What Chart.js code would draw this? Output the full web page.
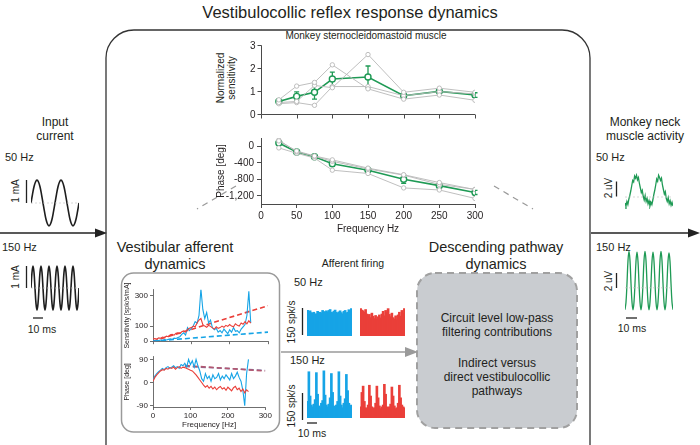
<!DOCTYPE html>
<html>
<head>
<meta charset="utf-8">
<script src="https://cdn.jsdelivr.net/npm/chart.js@4.4.0/dist/chart.umd.min.js"></script>
<style>
  body { margin: 0; background: #fff; }
  #fig { position: relative; width: 700px; height: 445px; overflow: hidden;
         font-family: "Liberation Sans", Arial, sans-serif; color: #231f20; }
  #fig canvas, #fig svg { position: absolute; }
  .t { position: absolute; white-space: nowrap; line-height: 1; transform: translate(-50%, -50%); }
  .l { position: absolute; white-space: nowrap; line-height: 1; transform: translate(0, -50%); }
  .rt { position: absolute; white-space: nowrap; line-height: 1; transform: translate(-100%, -50%); }
  .r { position: absolute; white-space: nowrap; line-height: 1; transform: translate(-50%, -50%) rotate(-90deg); }
</style>
</head>
<body>
<div id="fig">
<svg id="deco" width="700" height="445" style="left:0;top:0">
  <!-- outer box + main arrow -->
  <rect x="106" y="30" width="484" height="480" rx="28" fill="none" stroke="#333" stroke-width="1.3"/>
  <line x1="0" y1="233" x2="98" y2="233" stroke="#222" stroke-width="1.5"/>
  <polygon points="95,228.5 107,233 95,237.5" fill="#222"/>
  <line x1="591" y1="233" x2="691" y2="233" stroke="#222" stroke-width="1.5"/>
  <polygon points="688,228.5 700,233 688,237.5" fill="#222"/>
  <!-- zoom lines -->
  <line x1="236" y1="186" x2="197" y2="209" stroke="#999" stroke-width="1.2" stroke-dasharray="6,5"/>
  <line x1="494" y1="186" x2="533" y2="209" stroke="#999" stroke-width="1.2" stroke-dasharray="6,5"/>
  <!-- inset box, descending box, grey arrow -->
  <rect x="121.5" y="273" width="158" height="159" rx="12" fill="none" stroke="#9a9a9a" stroke-width="1.5"/>
  <rect x="417" y="273" width="160" height="155" rx="18" fill="#c9ccd0" stroke="#a0a0a0" stroke-width="2" stroke-dasharray="7,5"/>
  <line x1="281" y1="352" x2="408" y2="352" stroke="#9a9a9a" stroke-width="1.6"/>
  <polygon points="405,347 418,352 405,357" fill="#9a9a9a"/>
  <!-- scale bars -->
  <g stroke="#222" stroke-width="1.3">
    <line x1="26.5" y1="180" x2="26.5" y2="203"/>
    <line x1="26.5" y1="266" x2="26.5" y2="288"/>
    <line x1="33" y1="318" x2="43" y2="318"/>
    <line x1="616.5" y1="181.5" x2="616.5" y2="196.5"/>
    <line x1="616.5" y1="273" x2="616.5" y2="288"/>
    <line x1="626" y1="318" x2="637" y2="318"/>
    <line x1="302.5" y1="308" x2="302.5" y2="335"/>
    <line x1="302.5" y1="393" x2="302.5" y2="420"/>
    <line x1="307" y1="423" x2="317" y2="423"/>
  </g>
</svg>
</div>
<script>
// ---- main plots: Monkey SCM muscle ----
const freqs = [25, 50, 75, 100, 150, 200, 250, 300];
const freqTicks = [0, 50, 100, 150, 200, 250, 300];
const sensTicks = [0, 1, 2, 3];
const phaseTicks = [-1200, -800, -400, 0];

const sensMean = [0.55, 0.77, 0.95, 1.53, 1.62, 0.80, 0.99, 0.83];
const sensErr  = [0.06, 0.20, 0.30, 0.30, 0.48, 0.10, 0.08, 0.10];
const sensA = [0.62, 1.22, 1.38, 2.15, 1.10, 0.65, 0.83, 0.60];
const sensB = [0.50, 0.55, 1.25, 1.15, 2.60, 0.95, 1.13, 0.95];
const sensC = [0.45, 0.50, 0.38, 1.20, 1.20, 0.80, 0.98, 0.88];

const phaseMean = [80, -140, -255, -425, -580, -800, -955, -1120];
const phaseErr  = [40, 25, 20, 60, 30, 100, 40, 50];
const phaseA = [130, -115, -235, -330, -530, -690, -880, -1050];
const phaseB = [150, -135, -245, -365, -550, -700, -925, -1045];
const phaseC = [-40, -170, -285, -580, -660, -1010, -1060, -1265];

// ---- vestibular afferent inset ----
const affFreq = [0,5,10,15,20,25,30,35,40,45,50,55,60,65,70,75,80,85,90,95,100,105,110,115,120,125,
                 130,135,140,145,150,155,160,165,170,175,180,185,190,195,200,205,210,215,220,225,230,235,240,245,250,255];
const redSens = [15,18,14,22,20,28,25,33,30,42,45,40,52,55,50,62,68,60,78,85,90,100,95,120,140,150,
                 110,100,92,105,98,88,80,95,85,90,100,92,105,98,110,100,95,115,105,100,120,112,130,115,135,120];
const blueSens = [5,3,6,4,8,5,10,8,12,15,12,20,18,25,30,45,55,40,90,70,85,100,130,120,170,345,
                  210,150,190,120,140,90,75,85,60,70,55,80,65,50,75,60,90,65,70,55,80,95,110,170,330,120];
const redPhase = [5,20,30,38,45,50,48,55,52,58,55,60,52,58,62,55,60,58,55,52,48,45,38,30,20,10,
                  0,-10,-18,-12,-22,-15,-25,-18,-28,-20,-15,-25,-20,-30,-18,-25,-32,-20,-15,-28,-22,-35,-25,-40,-28,-35];
const bluePhase = [10,25,35,42,48,55,50,58,62,55,60,65,58,62,55,70,65,75,60,90,70,85,60,90,65,45,
                   15,5,35,15,25,5,30,15,20,35,10,25,15,30,20,10,35,15,25,40,20,5,-30,-90,35,90];
const fitFreq = [0, 300];
const redSensFit = [0, 235];
const blueSensFit = [0, 60];
const phaseFitFreq = [85, 300];
const redPhaseFit = [66, 45];
const bluePhaseFit = [63, 47];
const insetSensTicks = [0, 100, 300];
const insetPhaseTicks = [-90, 0, 90];
const insetFreqTicks = [0, 100, 200, 300];

// ---- afferent firing histograms (spk/s) ----
const blue50 = [140,132,138,128,125,130,118,122,135,128,130,126,140,134,128,138,132,140,
                145,130,128,136,142,130,124,132,138,128,120,135,140,126,130,144,138,150];
const red50 = [150,142,138,130,145,120,110,118,100,125,108,95,112,90,105,115,98,120,
               135,110,140,128,150,118,105,125,100,92,110,88,115,130,108,140,125,150];
const blue150 = [90,255,120,70,60,75, 100,250,130,65,55,80, 95,260,125,70,60,75,
                 110,245,140,65,60,70, 90,255,120,70,55,80, 105,240,150,80,60,70];
const red150 = [60,140,175,90,55,50, 70,180,120,60,50,55, 80,175,110,65,50,60,
                70,185,130,60,55,60, 75,170,120,65,50,55, 80,180,110,70,60,55];

// ---- input current (mA) and neck EMG (uV) traces, 40 ms each ----
const current50 = [0,0.38,0.71,0.92,1,0.92,0.71,0.38,0,-0.38,-0.71,-0.92,-1,-0.92,-0.71,-0.38,
                   0,0.38,0.71,0.92,1,0.92,0.71,0.38,0,-0.38,-0.71,-0.92,-1,-0.92,-0.71,-0.38,0];
const current150 = [0,0.71,1,0.71,0,-0.71,-1,-0.71, 0,0.71,1,0.71,0,-0.71,-1,-0.71,
                    0,0.71,1,0.71,0,-0.71,-1,-0.71, 0,0.71,1,0.71,0,-0.71,-1,-0.71,
                    0,0.71,1,0.71,0,-0.71,-1,-0.71, 0,0.71,1,0.71,0,-0.71,-1,-0.71, 0];
const emg50 = [-0.8,-1.2,-0.6,-1.0,-0.3,0.2,0.8,1.5,2.2,2.0,2.8,2.5,2.9,2.3,2.6,1.8,1.2,0.6,0.9,0.1,
               -0.4,0.2,-0.6,-0.2,-0.9,-0.5,-1.2,-0.7,-1.0,-0.4,0.3,0.9,1.6,2.4,2.1,2.9,2.6,2.2,2.5,1.6,
               1.0,0.4,0.7,-0.2,-0.6,-0.1,-0.9,-0.5,-1.1,-0.7,-1.2];
const emg150 = [-2.9,-1.9,0.6,3.6,4.8,3.6,0.6,-1.9, -2.9,-1.9,0.6,3.5,4.7,3.5,0.6,-1.9,
                -2.9,-1.9,0.6,3.6,4.8,3.6,0.6,-1.9, -2.9,-1.9,0.6,3.5,4.7,3.5,0.6,-1.9,
                -2.9,-1.9,0.6,3.6,4.8,3.6,0.6,-1.9, -2.9,-1.9,0.6,3.5,4.6,3.5,0.6,-1.9, -2.9];

const GREEN = '#1f9a55', GREY = '#b8b8b8', AX = '#4a4a4a';
const RED = '#ea3f39', BLUE = '#16a4e6';

Chart.defaults.font.family = '"Liberation Sans", Arial, sans-serif';
Chart.defaults.color = '#231f20';
Chart.defaults.animation = false;
Chart.defaults.responsive = false;
Chart.defaults.events = [];
Chart.defaults.plugins.legend.display = false;
Chart.defaults.plugins.tooltip.enabled = false;

const fig = document.getElementById('fig');
const deco = document.getElementById('deco');

function addCanvas(x, y, w, h)
{
	const c = document.createElement('canvas');
	c.width = w; c.height = h;
	c.style.left = x + 'px'; c.style.top = y + 'px';
	c.style.width = w + 'px'; c.style.height = h + 'px';
	fig.appendChild(c);
	return c;
}

function txt(s, x, y, size, cls = 't')
{
	const d = document.createElement('div');
	d.className = cls;
	d.textContent = s;
	d.style.left = x + 'px';
	d.style.top = y + 'px';
	d.style.fontSize = size + 'px';
	fig.appendChild(d);
}

function svgLine(x1, y1, x2, y2)
{
	const l = document.createElementNS('http://www.w3.org/2000/svg', 'line');
	l.setAttribute('x1', x1); l.setAttribute('y1', y1);
	l.setAttribute('x2', x2); l.setAttribute('y2', y2);
	l.setAttribute('stroke', AX); l.setAttribute('stroke-width', 1);
	deco.appendChild(l);
}

// the top panel's canvas axes never showed in the picture, so its axes are
// laid out in the page instead, at the pixels the chart's own scales give
function pageAxes(chart, left, top, xTicks, yTicks)
{
	const { chartArea: a, scales: { x, y } } = chart;
	const L = left + Math.round(a.left) + 0.5, B = top + Math.round(a.bottom) + 0.5;
	svgLine(L, top + a.top, L, B);
	svgLine(L, B, left + a.right, B);
	yTicks.forEach(v => {
		const py = top + Math.round(y.getPixelForValue(v)) + 0.5;
		svgLine(L - 4, py, L, py);
		txt(String(v), L - 6, py, 10, 'rt');
	});
	xTicks.forEach(v => {
		const px = left + Math.round(x.getPixelForValue(v)) + 0.5;
		svgLine(px, B, px, B + 4);
	});
}

// text goes in first so that the canvases sit on top of it
txt('Vestibulocollic reflex response dynamics', 350, 12, 16.5);
txt('Monkey sternocleidomastoid muscle', 366, 36, 10);
txt('Normalized', 221, 78, 10, 'r');
txt('sensitivity', 232, 78, 10, 'r');
txt('Input', 55, 122, 12);
txt('current', 55, 136, 12);
txt('50 Hz', 5, 157, 11, 'l');
txt('1 mA', 16, 191, 10, 'r');
txt('150 Hz', 2, 247, 11, 'l');
txt('1 mA', 16, 277, 10, 'r');
txt('10 ms', 42, 329, 10.5);
txt('Monkey neck', 645, 122, 12);
txt('muscle activity', 645, 136, 12);
txt('50 Hz', 596, 157, 11, 'l');
txt('2 uV', 609, 188, 10, 'r');
txt('150 Hz', 596, 247, 11, 'l');
txt('2 uV', 609, 281, 10, 'r');
txt('10 ms', 632, 328, 10.5);
txt('Vestibular afferent', 175, 247, 14.5);
txt('dynamics', 175, 264, 14.5);
txt('Afferent firing', 353, 263, 10.5);
txt('50 Hz', 294, 282, 11, 'l');
txt('150 spk/s', 292, 322, 10, 'r');
txt('150 Hz', 290, 360, 11, 'l');
txt('150 spk/s', 292, 406, 10, 'r');
txt('10 ms', 312, 433, 10.5);
txt('Descending pathway', 496, 247, 14.5);
txt('dynamics', 496, 264, 14.5);
txt('Circuit level low-pass', 497, 318, 12);
txt('filtering contributions', 497, 332, 12);
txt('Indirect versus', 497, 363, 12);
txt('direct vestibulocollic', 497, 377, 12);
txt('pathways', 497, 391, 12);

const pts = (xs, ys) => xs.map((x, i) => ({ x: x, y: ys[i] }));
const setTicks = (arr) => (s) => { s.ticks = arr.map(v => ({ value: v })); };

// vertical error bars with small caps, drawn under the markers
const errorBars = {
	id: 'errorBars',
	beforeDatasetsDraw(chart, args, opts)
	{
		if (!opts.err) return;
		const { ctx, scales: { x, y } } = chart;
		ctx.save();
		ctx.strokeStyle = GREEN;
		ctx.lineWidth = 1.3;
		opts.err.forEach((e, i) => {
			const px = x.getPixelForValue(freqs[i]);
			const top = y.getPixelForValue(opts.mean[i] + e);
			const bot = y.getPixelForValue(opts.mean[i] - e);
			ctx.beginPath();
			ctx.moveTo(px, top); ctx.lineTo(px, bot);
			ctx.moveTo(px - 2.5, top); ctx.lineTo(px + 2.5, top);
			ctx.moveTo(px - 2.5, bot); ctx.lineTo(px + 2.5, bot);
			ctx.stroke();
		});
		ctx.restore();
	}
};

const greyDs = (ys) => ({ data: pts(freqs, ys), borderColor: GREY, borderWidth: 0.9,
	pointRadius: 2.2, pointBorderWidth: 0.9, pointBorderColor: GREY, pointBackgroundColor: '#fff' });
const greenDs = (ys) => ({ data: pts(freqs, ys), borderColor: GREEN, borderWidth: 1.6,
	pointRadius: 3, pointBorderWidth: 1.4, pointBorderColor: GREEN, pointBackgroundColor: '#fff' });

function axisBase(extra, thin)
{
	const cfg = Object.assign({ type: 'linear', display: true }, extra);
	cfg.grid = { display: true, drawOnChartArea: false, tickLength: thin ? 3 : 4, color: AX, lineWidth: thin ? 0.8 : 1 };
	cfg.border = { display: true, color: AX, width: thin ? 0.8 : 1 };
	return cfg;
}

// phase (bottom)
new Chart(addCanvas(215, 129, 275, 106), {
	type: 'line',
	data: { datasets: [greyDs(phaseA), greyDs(phaseB), greyDs(phaseC), greenDs(phaseMean)] },
	options: {
		layout: { padding: { top: 5, right: 15 } },
		scales: {
			x: axisBase({ min: 0, max: 300, afterBuildTicks: setTicks(freqTicks),
				ticks: { font: { size: 10 }, padding: 2 },
				afterFit: s => { s.height = 31; },
				title: { display: true, text: 'Frequency Hz', font: { size: 10 }, padding: 0 } }),
			y: axisBase({ min: -1400, max: 200, afterBuildTicks: setTicks(phaseTicks),
				ticks: { font: { size: 10 }, padding: 3 },
				afterFit: s => { s.width = 46; },
				title: { display: true, text: 'Phase [deg]', font: { size: 10 }, padding: 0 } })
		},
		plugins: { errorBars: { mean: phaseMean, err: phaseErr } }
	},
	plugins: [errorBars]
});

// sensitivity (top): its scales only reserve room here
const SENS_X = 228, SENS_Y = 40;
const sensChart = new Chart(addCanvas(SENS_X, SENS_Y, 262, 80), {
	type: 'line',
	data: { datasets: [greyDs(sensA), greyDs(sensB), greyDs(sensC), greenDs(sensMean)] },
	options: {
		layout: { padding: { top: 5, right: 15, bottom: 0, left: 0 } },
		scales: {
			x: { type: 'linear', min: 0, max: 300, ticks: { display: false },
				grid: { display: false }, border: { display: false }, afterFit: s => { s.height = 6; } },
			y: { type: 'linear', min: 0, max: 3, ticks: { display: false },
				grid: { display: false }, border: { display: false }, afterFit: s => { s.width = 33; } }
		},
		plugins: { errorBars: { mean: sensMean, err: sensErr } }
	},
	plugins: [errorBars]
});
pageAxes(sensChart, SENS_X, SENS_Y, freqTicks, sensTicks);

// afferent inset
const trace = (xs, ys, color) => ({ data: pts(xs, ys), borderColor: color, borderWidth: 1.1, pointRadius: 0 });
const fit = (xs, ys, color) => ({ data: pts(xs, ys), borderColor: color, borderWidth: 1.6, borderDash: [5, 3], pointRadius: 0 });

new Chart(addCanvas(123, 283, 150, 65), {
	type: 'line',
	data: { datasets: [trace(affFreq, redSens, RED), trace(affFreq, blueSens, BLUE),
		fit(fitFreq, redSensFit, RED), fit(fitFreq, blueSensFit, BLUE)] },
	options: {
		layout: { padding: { top: 5, right: 5 } },
		scales: {
			x: axisBase({ min: 0, max: 300, afterBuildTicks: setTicks(insetFreqTicks),
				ticks: { display: false }, afterFit: s => { s.height = 3; } }, true),
			y: axisBase({ min: 0, max: 340, afterBuildTicks: setTicks(insetSensTicks),
				ticks: { font: { size: 8 }, padding: 2 },
				afterFit: s => { s.width = 30; },
				title: { display: true, text: 'Sensitivity [spk/s/mA]', font: { size: 7 }, padding: 0 } }, true)
		}
	}
});

new Chart(addCanvas(123, 350, 150, 80), {
	type: 'line',
	data: { datasets: [trace(affFreq, redPhase, RED), trace(affFreq, bluePhase, BLUE),
		fit(phaseFitFreq, redPhaseFit, '#b5566f'), fit(phaseFitFreq, bluePhaseFit, '#7b6f9e')] },
	options: {
		layout: { padding: { top: 5, right: 5 } },
		scales: {
			x: axisBase({ min: 0, max: 300, afterBuildTicks: setTicks(insetFreqTicks),
				ticks: { font: { size: 8 }, padding: 1 },
				afterFit: s => { s.height = 23; },
				title: { display: true, text: 'Frequency [Hz]', font: { size: 8 }, padding: 0 } }, true),
			y: axisBase({ min: -95, max: 100, afterBuildTicks: setTicks(insetPhaseTicks),
				ticks: { font: { size: 8 }, padding: 2 },
				afterFit: s => { s.width = 30; },
				title: { display: true, text: 'Phase [deg]', font: { size: 7 }, padding: 0 } }, true)
		}
	}
});

// histograms and traces: no axes, library scales only
function hist(x, y, w, h, values, color)
{
	new Chart(addCanvas(x, y, w, h), {
		type: 'bar',
		data: { labels: values.map((v, i) => i),
			datasets: [{ data: values, backgroundColor: color, borderWidth: 0, inflateAmount: 0.7,
				barPercentage: 1, categoryPercentage: 1 }] },
		options: { layout: { padding: 0 },
			scales: { x: { display: false }, y: { display: false, min: 0, max: 300 } } }
	});
}

function wave(x, y, w, h, values, min, max, color, lw, tension)
{
	new Chart(addCanvas(x, y, w, h), {
		type: 'line',
		data: { labels: values.map((v, i) => i),
			datasets: [
				{ data: values.map(() => 0), borderColor: '#c4c4c4', borderWidth: 0.7, borderDash: [2, 2], pointRadius: 0 },
				{ data: values, borderColor: color, borderWidth: lw, pointRadius: 0, tension: tension }
			] },
		options: { layout: { padding: 0 },
			scales: { x: { display: false }, y: { display: false, min: min, max: max } } }
	});
}

hist(307, 282, 45, 54, blue50, BLUE);
hist(360, 282, 45, 54, red50, RED);
hist(307, 364, 45, 54, blue150, BLUE);
hist(360, 364, 45, 54, red150, RED);

wave(31, 179, 48, 48, current50, -1.05, 1.05, '#1e1e1e', 1.6, 0.4);
wave(31, 265, 48, 46, current150, -1.05, 1.05, '#1e1e1e', 1.6, 0.4);
wave(625, 173, 48, 36, emg50, -1.6, 3.2, GREEN, 1.3, 0);
wave(625, 250, 48, 62, emg150, -3.2, 5.0, GREEN, 1.3, 0.4);
</script>
</body>
</html>
